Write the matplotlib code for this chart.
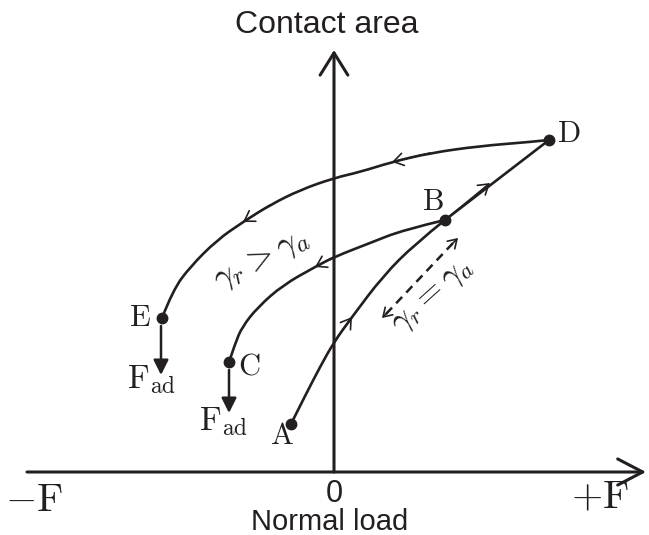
import numpy as np
import matplotlib.pyplot as plt
from matplotlib.path import Path
from matplotlib.patches import PathPatch

plt.rcParams['mathtext.fontset'] = 'cm'

INK = '#231f20'

# key states (load, contact area), origin at the axes crossing
pt_A = (-43, 48)
pt_B = (111, 252)
pt_C = (-105, 110)
pt_D = (215, 332)
pt_E = (-172, 154)

# loading A -> B
load_AB = [-43, -29, -14, 0, 18, 49, 81, 111]
area_AB = [48, 76, 105, 130, 155, 196, 228, 252]

# loading B -> D (straight)
load_BD = [111, 215]
area_BD = [252, 332]

# unloading B -> C (listed from C to B)
load_CB = [-105, -99, -92, -76, -51, -19, 0, 36, 69, 111]
area_CB = [110, 128, 145, 165, 187, 205, 215, 229, 242, 252]

# unloading D -> E (listed from E to D)
load_ED = [-172, -161, -144, -117, -91, -64, -34, 0, 26, 58, 96, 146, 196, 215]
area_ED = [154, 182, 205, 232, 250, 267, 282, 294, 300, 310, 319, 326, 330, 332]

fig = plt.figure(figsize=(6.49, 5.35), dpi=100)
ax = fig.add_axes([0, 0, 1, 1])
ax.set_xlim(-334, 315)
ax.set_ylim(-63, 472)
ax.axis('off')


def arrow(tip, tail, style, scale, lw, **kw):
    ax.annotate('', xy=tip, xytext=tail,
                arrowprops=dict(arrowstyle=style, mutation_scale=scale, lw=lw,
                                color=INK, shrinkA=0, shrinkB=0, **kw))


def smooth_curve(xs, ys):
    # quadratic bezier path using the read points as control points
    pts = list(zip(xs, ys))
    verts = [pts[0]]
    codes = [Path.MOVETO]
    for i in range(1, len(pts) - 1):
        mid = ((pts[i][0] + pts[i + 1][0]) / 2, (pts[i][1] + pts[i + 1][1]) / 2)
        if i == len(pts) - 2:
            mid = pts[-1]
        verts += [pts[i], mid]
        codes += [Path.CURVE3, Path.CURVE3]
    if len(pts) == 2:
        verts.append(pts[1])
        codes.append(Path.LINETO)
    ax.add_patch(PathPatch(Path(verts, codes), fill=False, edgecolor=INK,
                           lw=1.9, capstyle='round', joinstyle='round'))


# axes with open arrowheads
arrow((312, 0), (-307, 0), '->,head_length=0.9,head_width=0.47', 20, 2.2)
arrow((0, 422), (0, 0), '->,head_length=0.8,head_width=0.5', 20, 2.2)

# curves
for xs, ys in [(load_AB, area_AB), (load_BD, area_BD),
               (load_CB, area_CB), (load_ED, area_ED)]:
    smooth_curve(xs, ys)

# direction arrows on the curves
small = '->,head_length=0.5,head_width=0.32'
arrow((load_AB[4], area_AB[4]), (load_AB[3], area_AB[3]), small, 14, 1.2)
arrow((156, 289), (load_BD[0], area_BD[0]), small, 14, 1.2)
arrow((load_CB[5], area_CB[5]), (load_CB[6], area_CB[6]), small, 14, 1.2)
arrow((load_ED[9], area_ED[9]), (load_ED[10], area_ED[10]), small, 14, 1.2)
arrow((load_ED[4], area_ED[4]), (load_ED[5], area_ED[5]), small, 14, 1.2)

# state points
for p in [pt_A, pt_B, pt_C, pt_D, pt_E]:
    ax.plot(*p, 'o', color=INK, ms=7.5)

# adhesion force arrows
arrow((pt_E[0] - 1, 97), (pt_E[0] - 1, 146), '-|>,head_length=0.6,head_width=0.3', 15, 1.8)
arrow((pt_C[0], 59), (pt_C[0], 102), '-|>,head_length=0.6,head_width=0.3', 15, 1.8)

# dashed reversible path
ax.plot([52, 120], [158, 230], color=INK, lw=1.8, ls=(0, (3.5, 2.4)))
arrow((48, 154), (54, 160), small, 12, 1.2)
arrow((124, 234), (118, 228), small, 12, 1.2)

# point labels
serif = dict(color=INK, ha='center', va='center')
ax.text(-52, 37, r'$\mathrm{A}$', fontsize=22, **serif)
ax.text(99, 271, r'$\mathrm{B}$', fontsize=22, **serif)
ax.text(-85, 106, r'$\mathrm{C}$', fontsize=22, **serif)
ax.text(235, 339, r'$\mathrm{D}$', fontsize=22, **serif)
ax.text(-194, 155, r'$\mathrm{E}$', fontsize=22, **serif)
ax.text(-182, 92, r'$\mathrm{F}_{\mathrm{ad}}$', fontsize=24, **serif)
ax.text(-110, 51, r'$\mathrm{F}_{\mathrm{ad}}$', fontsize=24, **serif)
ax.text(-300, -28, r'$-\mathrm{F}$', fontsize=29, **serif)
ax.text(266, -25, r'$+\mathrm{F}$', fontsize=29, **serif)
ax.text(-73, 213, r'$\gamma_r > \gamma_a$', fontsize=25, rotation=27,
        rotation_mode='anchor', **serif)
ax.text(98, 177, r'$\gamma_r = \gamma_a$', fontsize=24, rotation=42,
        rotation_mode='anchor', **serif)

# axis titles
sans = dict(color=INK, ha='center', va='center', family='Liberation Sans')
ax.text(0, -22, '0', fontsize=22, **sans)
ax.text(-4, -50, 'Normal load', fontsize=21, **sans)
ax.text(-7, 447, 'Contact area', fontsize=23, **sans)

fig.savefig('out.png', dpi=100)
